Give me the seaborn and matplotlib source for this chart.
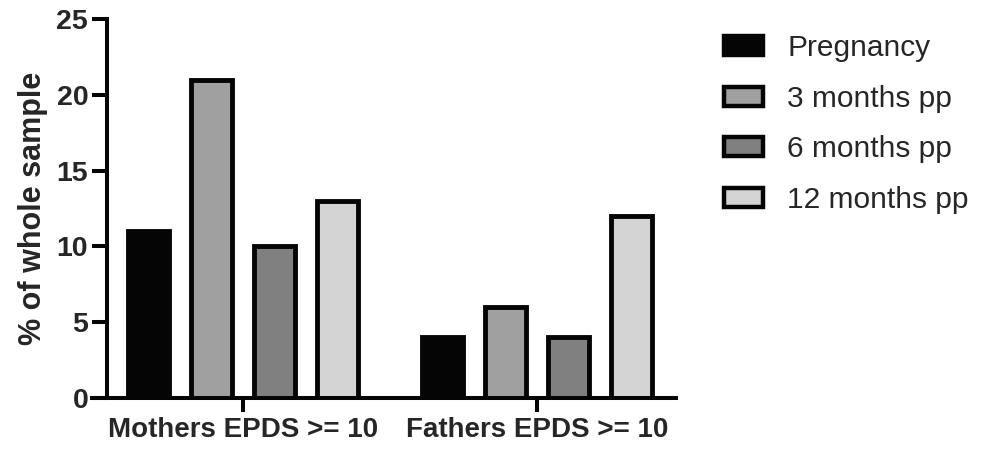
import pandas as pd
import seaborn as sns
import matplotlib.pyplot as plt
import matplotlib.patches as mpatches

# data
groups = ['Mothers EPDS >= 10', 'Fathers EPDS >= 10']
timepoints = ['Pregnancy', '3 months pp', '6 months pp', '12 months pp']
mothers = [11, 21, 10, 13]
fathers = [4, 6, 4, 12]
colors = ['#050505', '#a0a0a0', '#808080', '#d4d4d4']

df = pd.DataFrame({
    'group': [groups[0]] * 4 + [groups[1]] * 4,
    'time': timepoints * 2,
    'value': mothers + fathers,
})

sns.set_style('ticks')
plt.rcParams['font.family'] = ['Liberation Sans', 'DejaVu Sans']

fig = plt.figure(figsize=(9.86, 4.5), dpi=100)
ax = fig.add_axes([0.0933, 0.1156, 0.5923, 0.8422])

sns.barplot(data=df, x='group', y='value', hue='time', hue_order=timepoints,
            palette=colors, width=0.857, gap=0.346, edgecolor='#050505',
            linewidth=3.5, legend=False, ax=ax)

ax.set_xlim(-0.514, 1.473)
ax.set_ylim(0, 25)
ax.set_yticks([0, 5, 10, 15, 20, 25])
ax.spines['top'].set_visible(False)
ax.spines['right'].set_visible(False)
ax.spines['left'].set_position(('data', -0.463))
for s in ['left', 'bottom']:
    ax.spines[s].set_linewidth(2.9)
    ax.spines[s].set_color('#050505')
ax.tick_params(axis='y', length=10.5, width=2.9, labelsize=20.5, pad=3, color='#050505')
ax.tick_params(axis='x', length=10, width=2.9, labelsize=20, pad=4, color='#050505')
for lbl in ax.get_xticklabels() + ax.get_yticklabels():
    lbl.set_fontweight('bold')
ax.set_xlabel('')
ax.set_ylabel('% of whole sample', fontsize=22, fontweight='bold', labelpad=6)

handles = [mpatches.Patch(facecolor=c, edgecolor='#050505', linewidth=3.2, label=t)
           for c, t in zip(colors, timepoints)]
fig.legend(handles=handles, loc='upper left', bbox_to_anchor=(0.722, 0.95),
           frameon=False, fontsize=21.5, handlelength=1.32, handleheight=0.6,
           handletextpad=0.8, labelspacing=0.75, borderaxespad=0)

fig.savefig('out.png', dpi=100)
